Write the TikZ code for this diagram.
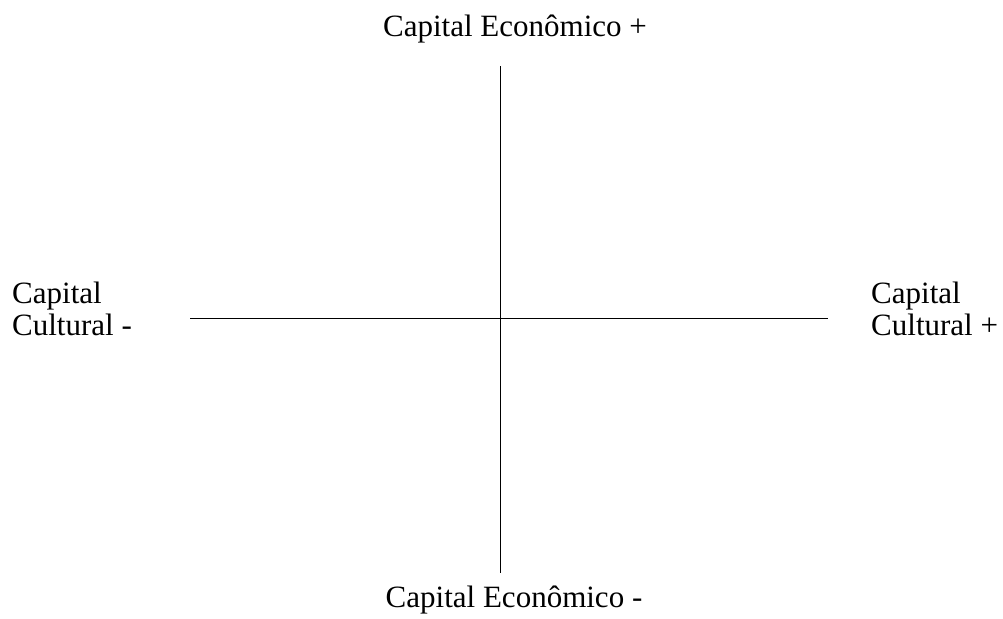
\documentclass[tikz,border=0pt]{standalone}
\usepackage{fontspec}
\setmainfont{Liberation Serif}
\usetikzlibrary{positioning}

\begin{document}
\begin{tikzpicture}[
  x=1pt,y=-1pt,
  axis/.style={
    line width=1pt,
    draw=black
  },
  axislabel/.style={
    inner sep=0pt,
    anchor=base,
    font=\fontsize{31}{32}\selectfont,
    text=black
  },
  sidelabel/.style={
    inner sep=0pt,
    align=left,
    anchor=base west,
    font=\fontsize{31}{32}\selectfont,
    text=black
  }
]
\useasboundingbox (0,0) rectangle (1003,618);

% -------------------------------------------------
% Axis labels
% -------------------------------------------------
\node[axislabel] (econup) at (515,37) {Capital Econômico +};
\node[axislabel] (econdown) at (514,607) {Capital Econômico -};

\node[sidelabel] (cultminus) at (12,335) {Capital\\Cultural -};
\node[sidelabel] (cultplus) at (871,335) {Capital\\Cultural +};

% -------------------------------------------------
% Axes
% -------------------------------------------------
\coordinate (top) at (500,66);
\coordinate (bottom) at (500,573);
\coordinate (left) at (190,318);
\coordinate (right) at (828,318);

\draw[axis] (top) -- (bottom);
\draw[axis] (left) -- (right);

\end{tikzpicture}
\end{document}
